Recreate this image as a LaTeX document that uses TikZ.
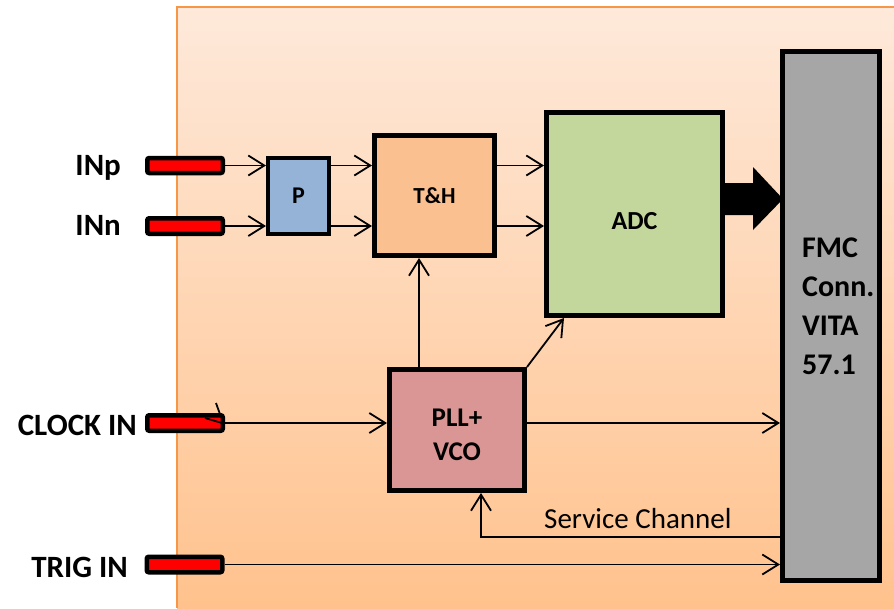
\documentclass[tikz,border=0pt]{standalone}
\usepackage{fontspec}
\setmainfont{Carlito}
\usetikzlibrary{arrows.meta,calc}
\definecolor{bgtop}{RGB}{254,233,218}
\definecolor{bgbot}{RGB}{255,194,141}
\definecolor{bgedge}{RGB}{247,150,70}
\definecolor{pblue}{RGB}{149,179,215}
\definecolor{thor}{RGB}{250,192,144}
\definecolor{adcg}{RGB}{195,214,155}
\definecolor{pllr}{RGB}{217,150,148}
\definecolor{fmcg}{RGB}{166,166,166}
\begin{document}
\begin{tikzpicture}[x=1pt,y=-1pt,
  blk/.style={draw=black, line width=5pt, inner sep=0pt},
  jack/.style={draw=black, fill=red, line width=4.5pt, rounded corners=2pt,
    minimum width=75.5pt, minimum height=15pt, inner sep=0pt},
  lbl/.style={font=\bfseries\fontsize{31}{36}\selectfont, anchor=base east, inner sep=0pt},
  btxt/.style={font=\bfseries\fontsize{#1}{#1}\selectfont, inner sep=0pt},
  sig/.style={line width=1.8pt, -{Straight Barb[length=16pt,width=20pt]}},
  wire/.style={line width=1.8pt},
]
\useasboundingbox (0,0) rectangle (894,608);
\shade[top color=bgtop,bottom color=bgbot] (177,7) rectangle (894,608);
\draw[draw=bgedge,line width=2.2pt] (177,608) -- (177,7) -- (894,7);

% blocks
\node[blk, line width=4pt, fill=pblue, minimum width=61pt, minimum height=76pt,
  btxt=24] (P) at (298.5,196) {P};
\node[blk, fill=thor, minimum width=120pt, minimum height=120pt] (TH) at (434.5,195.5) {};
\node[btxt=23] (THt) at (434.5,196) {T\&H};
\node[blk, fill=adcg, minimum width=176pt, minimum height=203pt] (ADC) at (634.5,214) {};
\node[btxt=26] (ADCt) at (634.5,221) {ADC};
\node[blk, fill=pllr, minimum width=135pt, minimum height=121pt] (PLL) at (457,430) {};
\node[btxt=27, align=center, font=\bfseries\fontsize{27}{34}\selectfont] (PLLt) at (457,435) {PLL+\\VCO};
\node[blk, fill=fmcg, minimum width=97pt, minimum height=529pt] (FMC) at (831,316) {};
\node[btxt=30, align=left, anchor=north west, font=\bfseries\fontsize{30}{39}\selectfont]
  (FMCt) at (802,238) {FMC\\Conn.\\VITA\\57.1};

% input jacks
\node[jack] (inp) at (185,165.5) {};
\node[jack, minimum height=15.5pt] (inn) at (185,226) {};
\node[jack, minimum height=15.5pt] (clk) at (185,423) {};
\node[jack, minimum height=15.5pt] (trig) at (184.5,564.5) {};
\node[lbl] (inpL) at (121,175) {INp};
\node[lbl] (innL) at (121,235) {INn};
\node[lbl] (clkL) at (137,435) {CLOCK IN};
\node[lbl] (trigL) at (128,577) {TRIG IN};

% helper coordinates
\coordinate (thx) at (419,0);
\coordinate (adcx) at (564,0);
\coordinate (svc) at (481,537);
\coordinate (ba) at (ADC.east |- 0,199);

% connectors
\draw[sig] (inp.east) -- (inp.east -| P.west);
\draw[sig] (inn.east) -- (inn.east -| P.west);
\draw[sig] (P.east |- inp.east) -- (TH.west |- inp.east);
\draw[sig] (P.east |- inn.east) -- (TH.west |- inn.east);
\draw[sig] (TH.east |- inp.east) -- (ADC.west |- inp.east);
\draw[sig] (TH.east |- inn.east) -- (ADC.west |- inn.east);
\draw[sig] (thx |- PLL.north) -- (thx |- TH.south);
\draw[sig] (PLL.north east) -- (adcx |- ADC.south);
\draw[sig] (clk.east) -- (clk.east -| PLL.west);
\draw[sig] (PLL.east |- clk.east) -- (FMC.west |- clk.east);
\draw[sig] (FMC.west |- svc) -- (svc) -- (svc |- PLL.south);
\draw[sig] (trig.east) -- (trig.east -| FMC.west);
\draw[wire] ($(clk.east)+(-9,-20)$) -- ($(clk.east)+(-4,-6)$);
\draw[wire] ($(clk.east)+(-20,-5)$) -- ($(clk.east)+(-3,0)$);

% wide data arrow
\fill (ba) ++(-3,-16) -- ++(31,0) -- ++(0,-16) -- ++(30,32) -- ++(-30,31)
  -- ++(0,-15) -- ++(-31,0) -- cycle;

\node[font=\fontsize{29}{34}\selectfont, anchor=base west, inner sep=0pt]
  (svcL) at (544,528) {Service Channel};
\end{tikzpicture}
\end{document}
